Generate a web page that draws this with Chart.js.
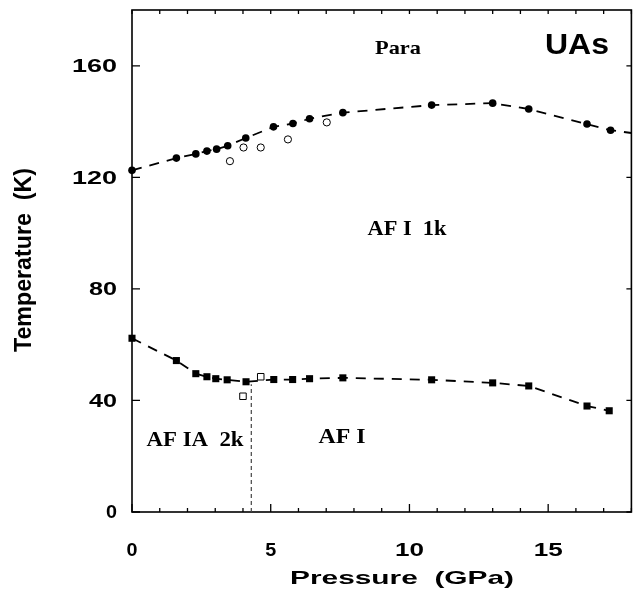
<!DOCTYPE html>
<html>
<head>
<meta charset="utf-8">
<script src="https://cdn.jsdelivr.net/npm/chart.js@4.4.1/dist/chart.umd.min.js"></script>
<style>
html, body { margin: 0; padding: 0; background: #fff; }
#wrap { width: 637px; height: 600px; }
</style>
</head>
<body>
<div id="wrap"><canvas id="grafico"></canvas></div>
<script>
// upper transition (filled circles), last value is where the dashed curve leaves the frame
const upperP = [0, 1.6, 2.3, 2.7, 3.05, 3.45, 4.1, 5.1, 5.8, 6.4, 7.6, 10.8, 13.0, 14.3, 16.4, 17.25, 18];
const upperT = [122.5, 126.9, 128.4, 129.4, 130.1, 131.3, 134.1, 138.1, 139.3, 141.0, 143.2, 145.9, 146.6, 144.5, 139.1, 136.9, 135.9];
// open circles
const openCircP = [3.53, 4.02, 4.64, 5.62, 7.02];
const openCircT = [125.8, 130.7, 130.7, 133.6, 139.7];
// lower transition (filled squares)
const lowerP = [0, 1.6, 2.3, 2.7, 3.02, 3.43, 4.11, 5.11, 5.79, 6.4, 7.6, 10.8, 13.0, 14.3, 16.4, 17.2];
const lowerT = [62.3, 54.3, 49.6, 48.5, 47.8, 47.4, 46.7, 47.5, 47.5, 47.8, 48.1, 47.4, 46.3, 45.2, 38.0, 36.3];
// open squares
const openSqP = [4.0, 4.64];
const openSqT = [41.5, 48.5];
// vertical boundary AF IA / AF I
const boundP = [4.3, 4.3];
const boundT = [0, 45.8];

const xTicks = [0, 5, 10, 15];
const yTicks = [0, 40, 80, 120, 160];

function pts(xs, ys) {
    return xs.map(function (v, i) { return { x: v, y: ys[i] }; });
}

function texto(ctx, s, cx, cy, fonte, largura, rot) {
    ctx.save();
    ctx.font = fonte;
    const m = ctx.measureText(s).width;
    ctx.translate(cx, cy);
    if (rot) ctx.rotate(rot);
    ctx.scale(largura / m, 1);
    ctx.textAlign = 'center';
    ctx.textBaseline = 'middle';
    ctx.fillStyle = '#000';
    ctx.fillText(s, 0, 0);
    ctx.restore();
}

const marcos = {
    id: 'marcos',
    beforeDatasetsDraw(chart) {
        const ctx = chart.ctx, a = chart.chartArea;
        const sx = chart.scales.x, sy = chart.scales.y;
        ctx.save();
        ctx.strokeStyle = '#000';
        ctx.lineWidth = 1.6;
        ctx.strokeRect(a.left, a.top, a.right - a.left, a.bottom - a.top);
        ctx.lineWidth = 1.3;
        ctx.beginPath();
        for (let p = 0; p <= 18; p++) {
            const x = sx.getPixelForValue(p);
            const len = xTicks.includes(p) ? 8 : 4;
            ctx.moveTo(x, a.bottom); ctx.lineTo(x, a.bottom - len);
            ctx.moveTo(x, a.top); ctx.lineTo(x, a.top + 4);
        }
        for (const t of yTicks) {
            const y = sy.getPixelForValue(t);
            ctx.moveTo(a.left, y); ctx.lineTo(a.left + 8, y);
            ctx.moveTo(a.right, y); ctx.lineTo(a.right - 5, y);
        }
        ctx.stroke();
        ctx.restore();
    },
    afterDraw(chart) {
        const ctx = chart.ctx;
        const sx = chart.scales.x, sy = chart.scales.y;
        const num = 'bold 19px "Liberation Sans", Arial, sans-serif';
        for (const t of xTicks) {
            const s = String(t);
            texto(ctx, s, sx.getPixelForValue(t), 551, num, 11 * s.length + 7 * (s.length - 1));
        }
        for (const t of yTicks) {
            const s = String(t);
            const w = 11 * s.length + 6 * (s.length - 1);
            texto(ctx, s, 117 - w / 2, sy.getPixelForValue(t) + 1, num, w);
        }
        texto(ctx, 'Pressure  (GPa)', 402, 579, 'bold 19px "Liberation Sans", Arial, sans-serif', 224);
        texto(ctx, 'Temperature  (K)', 25, 260, 'bold 23px "Liberation Sans", Arial, sans-serif', 184, -Math.PI / 2);
        const serif = 'bold 22px "Liberation Serif", "Times New Roman", serif';
        texto(ctx, 'Para', 398, 49, 'bold 19px "Liberation Serif", "Times New Roman", serif', 46);
        texto(ctx, 'UAs', 577, 46, 'bold 30px "Liberation Sans", Arial, sans-serif', 64);
        texto(ctx, 'AF I  1k', 407, 229, serif, 79);
        texto(ctx, 'AF IA  2k', 195, 440, serif, 97);
        texto(ctx, 'AF I', 342, 437, serif, 47);
    }
};

new Chart('grafico', {
    type: 'scatter',
    data: {
        datasets: [
            {
                data: pts(boundP, boundT),
                showLine: true,
                borderColor: '#444',
                borderWidth: 1.2,
                borderDash: [4, 3],
                pointRadius: 0,
                clip: false
            },
            {
                data: pts(upperP, upperT),
                showLine: true,
                borderColor: '#000',
                borderWidth: 1.8,
                borderDash: [10, 8],
                pointRadius: function (c) { return c.dataIndex === upperP.length - 1 ? 0 : 3.8; },
                pointBackgroundColor: '#000',
                pointBorderColor: '#000',
                pointBorderWidth: 0,
                clip: false
            },
            {
                data: pts(openCircP, openCircT),
                pointRadius: 3.6,
                pointBackgroundColor: '#fff',
                pointBorderColor: '#000',
                pointBorderWidth: 1,
                clip: false
            },
            {
                data: pts(lowerP, lowerT),
                showLine: true,
                borderColor: '#000',
                borderWidth: 1.8,
                borderDash: [10, 8],
                pointStyle: 'rect',
                pointRadius: 5,
                pointBackgroundColor: '#000',
                pointBorderColor: '#000',
                pointBorderWidth: 0,
                clip: false
            },
            {
                data: pts(openSqP, openSqT),
                pointStyle: 'rect',
                pointRadius: 4.6,
                pointBackgroundColor: '#fff',
                pointBorderColor: '#000',
                pointBorderWidth: 1,
                clip: false
            }
        ]
    },
    options: {
        responsive: true,
        maintainAspectRatio: false,
        animation: false,
        events: [],
        layout: { padding: { left: 132, right: 4, top: 10, bottom: 88 } },
        plugins: { legend: { display: false }, tooltip: { enabled: false } },
        scales: {
            x: { type: 'linear', display: false, min: 0, max: 18 },
            y: { type: 'linear', display: false, min: 0, max: 180 }
        }
    },
    plugins: [marcos]
});
</script>
</body>
</html>
